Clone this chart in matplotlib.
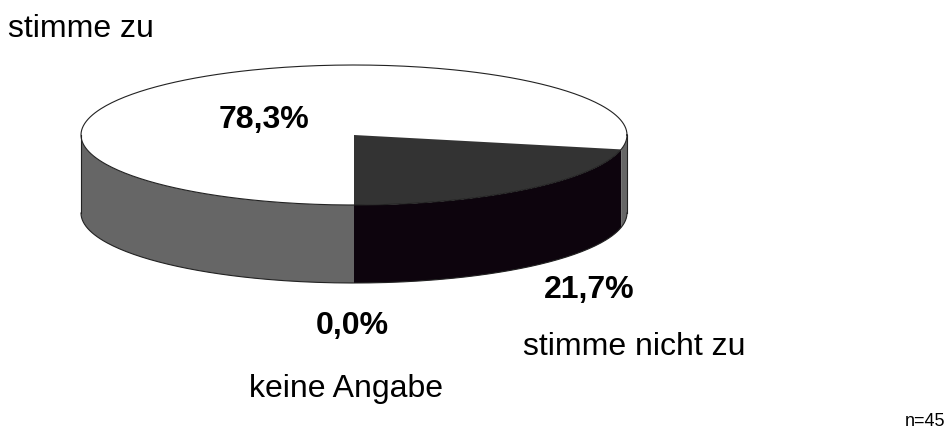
import numpy as np
import matplotlib
matplotlib.use("Agg")
import matplotlib.pyplot as plt

plt.rcParams["font.family"] = ["Liberation Sans", "DejaVu Sans"]

# slice shares in percent
categories = ["stimme zu", "stimme nicht zu", "keine Angabe"]
values = [78.3, 21.7, 0.0]
value_labels = ["78,3%", "21,7%", "0,0%"]

W, H = 946, 432
CX, CY = 354, 135
A, B = 273, 70
DEPTH = 78


def rim(t):
    return CX + A * np.cos(t), CY - B * np.sin(t)


def side(t0, t1, color, ax):
    # wall of the cylinder between two angles on the front half
    t = np.linspace(t0, t1, 120)
    x, y = rim(t)
    ax.fill(np.r_[x, x[::-1]], np.r_[y, y[::-1] + DEPTH], facecolor=color, edgecolor="none", zorder=2)


def main():
    fig = plt.figure(figsize=(W / 100, H / 100), dpi=100)
    ax = fig.add_axes([0, 0, 1, 1])
    ax.set_xlim(0, W)
    ax.set_ylim(H, 0)
    ax.axis("off")

    # dark slice starts at the bottom and runs counterclockwise
    start = -np.pi / 2
    split = start + 2 * np.pi * values[1] / 100

    side(-np.pi, start, "#666666", ax)
    side(start, split, "#0d040d", ax)
    side(split, 0, "#666666", ax)

    # top face
    t = np.linspace(0, 2 * np.pi, 400)
    x, y = rim(t)
    ax.fill(x, y, facecolor="white", edgecolor="none", zorder=3)
    t = np.linspace(start, split, 120)
    x, y = rim(t)
    ax.fill(np.r_[CX, x], np.r_[CY, y], facecolor="#333333", edgecolor="none", zorder=4)

    # outlines
    t = np.linspace(0, 2 * np.pi, 400)
    x, y = rim(t)
    ax.plot(x, y, color="#222222", lw=0.8, zorder=5)
    t = np.linspace(-np.pi, 0, 200)
    x, y = rim(t)
    ax.plot(x, y + DEPTH, color="#222222", lw=0.8, zorder=5)
    ax.plot([CX - A, CX - A], [CY, CY + DEPTH], color="#222222", lw=0.8, zorder=5)
    ax.plot([CX + A, CX + A], [CY, CY + DEPTH], color="#222222", lw=0.8, zorder=5)

    cat_size = 23
    val_size = 23
    ax.text(8, 29, categories[0], fontsize=cat_size, ha="left", va="center", color="black")
    ax.text(523, 347, categories[1], fontsize=cat_size, ha="left", va="center", color="black")
    ax.text(249, 389, categories[2], fontsize=cat_size, ha="left", va="center", color="black")
    ax.text(219, 120, value_labels[0], fontsize=val_size, fontweight="bold", ha="left", va="center", color="black", zorder=6)
    ax.text(544, 290, value_labels[1], fontsize=val_size, fontweight="bold", ha="left", va="center", color="black", zorder=6)
    ax.text(316, 326, value_labels[2], fontsize=val_size, fontweight="bold", ha="left", va="center", color="black", zorder=6)
    ax.text(945, 422, "n=45", fontsize=13, ha="right", va="center", color="black")

    fig.savefig("out.png", dpi=100, facecolor="white")


if __name__ == "__main__":
    main()
